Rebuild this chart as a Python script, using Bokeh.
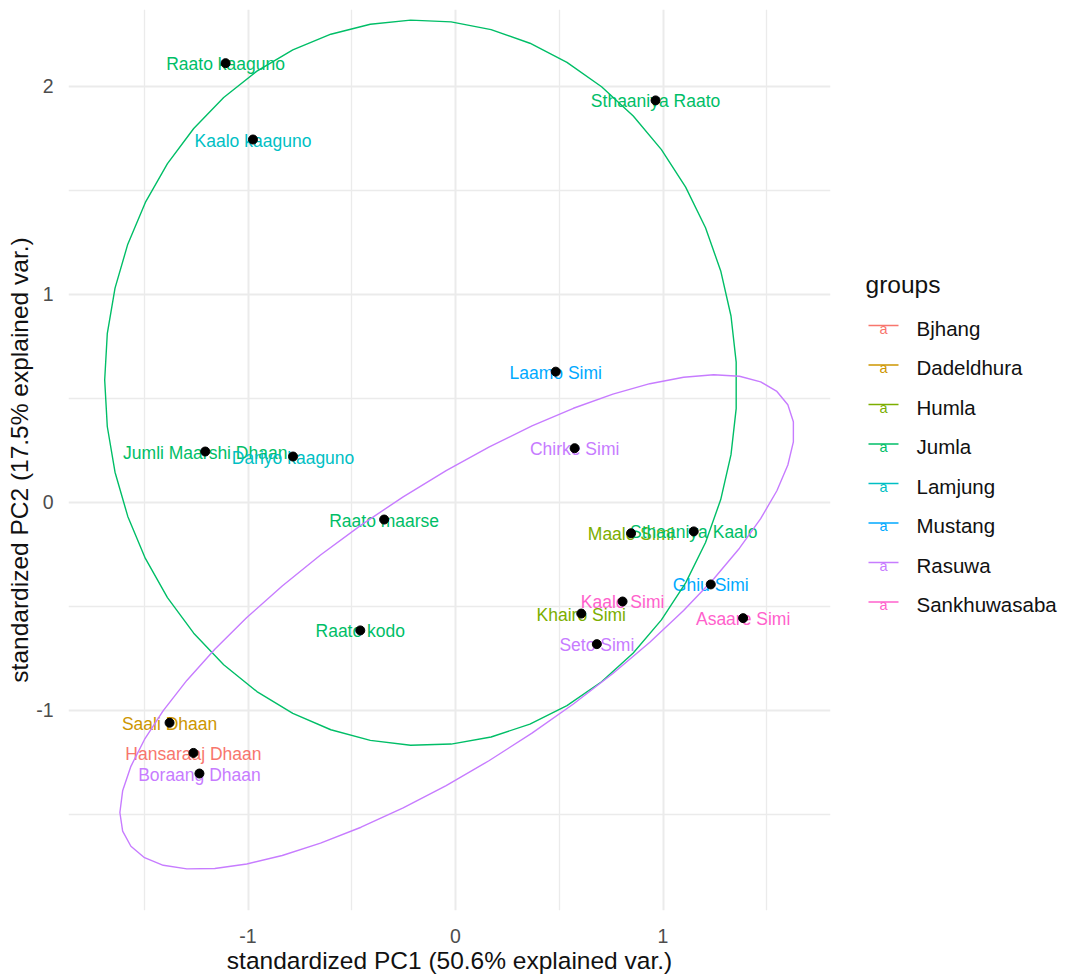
import numpy as np
from bokeh.plotting import figure
from bokeh.models import Range1d, FixedTicker, ColumnDataSource
from bokeh.layouts import row
from bokeh.embed import file_html
from bokeh.resources import INLINE
from bokeh.core.properties import value

FONT = "Liberation Sans"

# ---- data -------------------------------------------------------------
names = ["Raato kaaguno", "Kaalo kaaguno", "Sthaaniya Raato", "Laamo Simi",
         "Chirke Simi", "Jumli Maarshi Dhaan", "Dariyo kaaguno", "Raato maarse",
         "Raato kodo", "Maalo Simi", "Sthaaniya Kaalo", "Ghiu Simi",
         "Kaalo Simi", "Khairo Simi", "Asaare Simi", "Seto Simi",
         "Saali Dhaan", "Hansaraaj Dhaan", "Boraang Dhaan"]
groups = ["Jumla", "Lamjung", "Jumla", "Mustang",
          "Rasuwa", "Jumla", "Lamjung", "Jumla",
          "Jumla", "Humla", "Jumla", "Mustang",
          "Sankhuwasaba", "Humla", "Sankhuwasaba", "Rasuwa",
          "Dadeldhura", "Bjhang", "Rasuwa"]
pc1 = [-1.108, -0.976, 0.964, 0.483,
       0.574, -1.206, -0.783, -0.344,
       -0.459, 0.846, 1.148, 1.230,
       0.805, 0.606, 1.386, 0.681,
       -1.378, -1.263, -1.234]
pc2 = [2.112, 1.745, 1.933, 0.629,
       0.261, 0.245, 0.221, -0.082,
       -0.615, -0.148, -0.139, -0.394,
       -0.476, -0.534, -0.556, -0.681,
       -1.059, -1.204, -1.303]

group_levels = ["Bjhang", "Dadeldhura", "Humla", "Jumla",
                "Lamjung", "Mustang", "Rasuwa", "Sankhuwasaba"]
group_colors = ["#F8766D", "#CD9600", "#7CAE00", "#00BE67",
                "#00BFC4", "#00A9FF", "#C77CFF", "#FF61CC"]

x_ticks = [-1, 0, 1]
x_minor = [-1.5, -0.5, 0.5, 1.5]
y_ticks = [-1, 0, 1, 2]
y_minor = [-1.5, -0.5, 0.5, 1.5]

ellipse_prob = 0.68
color_of = dict(zip(group_levels, group_colors))

# ---- main figure ------------------------------------------------------
p = figure(width=838, height=978, output_backend="svg", toolbar_location=None,
           x_range=Range1d(-1.865, 1.807), y_range=Range1d(-1.9615, 2.370),
           min_border_left=68, min_border_right=8, min_border_top=9,
           min_border_bottom=68)
p.outline_line_color = None
p.background_fill_color = "white"
p.border_fill_color = "white"

p.xaxis.ticker = FixedTicker(ticks=x_ticks, minor_ticks=x_minor)
p.yaxis.ticker = FixedTicker(ticks=y_ticks, minor_ticks=y_minor)
p.xaxis.major_label_overrides = {t: str(t) for t in x_ticks}
p.yaxis.major_label_overrides = {t: str(t) for t in y_ticks}

for ax in (p.xaxis, p.yaxis):
    ax.axis_line_color = None
    ax.major_tick_line_color = None
    ax.minor_tick_line_color = None
    ax.major_tick_out = 0
    ax.major_tick_in = 0
    ax.major_label_text_font = FONT
    ax.major_label_text_font_size = "19.5px"
    ax.major_label_text_color = "#4D4D4D"
    ax.axis_label_text_font = FONT
    ax.axis_label_text_font_size = "24.5px"
    ax.axis_label_text_font_style = "normal"
    ax.axis_label_text_color = "#111111"

p.xaxis.axis_label = "standardized PC1 (50.6% explained var.)"
p.yaxis.axis_label = "standardized PC2 (17.5% explained var.)"
p.xaxis.major_label_standoff = 14
p.xaxis.axis_label_standoff = 1
p.yaxis.major_label_standoff = 11
p.yaxis.axis_label_standoff = 0

for g in (p.xgrid, p.ygrid):
    g.grid_line_color = "#EBEBEB"
    g.grid_line_width = 2
    g.minor_grid_line_color = "#EBEBEB"
    g.minor_grid_line_width = 1.3

src = ColumnDataSource(dict(x=pc1, y=pc2, label=names,
                            color=[color_of[g] for g in groups]))
p.text(x="x", y="y", text="label", source=src, text_color="color",
       text_font=value(FONT), text_font_size="17.5px",
       text_align="center", text_baseline="alphabetic", y_offset=1)

# ellipses (ggbiplot style, 68% normal probability)
theta = np.concatenate([np.linspace(-np.pi, np.pi, 50), np.linspace(np.pi, -np.pi, 50)])
circle = np.column_stack([np.cos(theta), np.sin(theta)])
ed = np.sqrt(-2.0 * np.log(1.0 - ellipse_prob))
x_arr = np.array(pc1)
y_arr = np.array(pc2)
g_arr = np.array(groups)
for gname in group_levels:
    m = g_arr == gname
    if m.sum() <= 2:
        continue
    pts = np.column_stack([x_arr[m], y_arr[m]])
    sigma = np.cov(pts, rowvar=False)
    mu = pts.mean(axis=0)
    R = np.linalg.cholesky(sigma).T  # upper triangular like R's chol
    ell = circle @ R * ed + mu
    p.line(ell[:, 0], ell[:, 1], line_color=color_of[gname], line_width=1.4)

p.scatter(x=pc1, y=pc2, size=9, color="black")

# ---- legend panel -----------------------------------------------------
# (its frame is aligned with the main frame: window y 9..910)
leg = figure(width=236, height=978, output_backend="svg", toolbar_location=None,
             x_range=Range1d(838, 1074), y_range=Range1d(910, 9),
             x_axis_location=None, y_axis_location=None,
             min_border_left=0, min_border_right=0, min_border_top=9,
             min_border_bottom=68)
leg.grid.visible = False
leg.outline_line_color = None
leg.border_fill_color = "white"
leg.background_fill_color = "white"

leg.text(x=[865], y=[284], text=["groups"], text_font=value(FONT),
         text_font_size="24.5px", text_color="#111111",
         text_align="left", text_baseline="alphabetic")

item_y = [325.0 + 39.5 * i for i in range(len(group_levels))]
leg.segment(x0=[868] * len(item_y), y0=item_y, x1=[898] * len(item_y), y1=item_y,
            line_color=group_colors, line_width=1.6)
leg.text(x=[883] * len(item_y), y=[yy + 3 for yy in item_y], text=["a"] * len(item_y),
         text_color=group_colors, text_font=value(FONT), text_font_size="14.5px",
         text_align="center", text_baseline="alphabetic")
leg.text(x=[916] * len(item_y), y=[yy + 2.7 for yy in item_y], text=group_levels,
         text_color="#111111", text_font=value(FONT), text_font_size="20.5px",
         text_align="left", text_baseline="alphabetic")

layout = row(p, leg)
open("out.html", "w").write(file_html(layout, INLINE))
